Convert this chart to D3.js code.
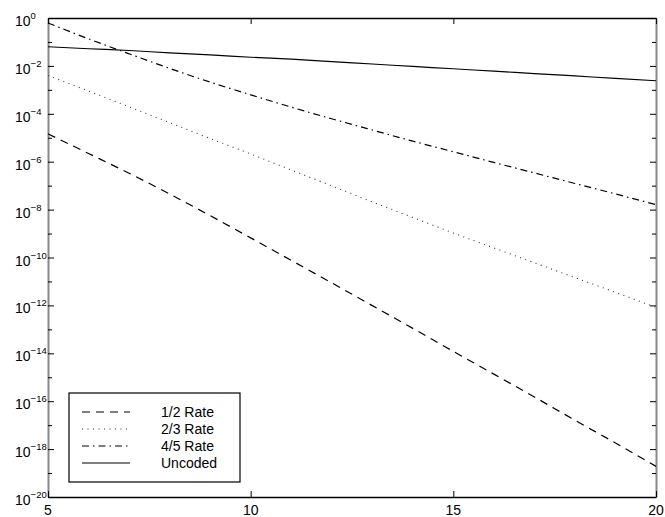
<!DOCTYPE html>
<html>
<head>
<meta charset="utf-8">
<script src="https://cdn.jsdelivr.net/npm/d3@7"></script>
<style>
    body { margin: 0; background: white; }
    svg text { font-family: Helvetica, Arial, "Liberation Sans", sans-serif; fill: black; }
</style>
</head>
<body>
<div id="chart"></div>
<script>
// x values (dB)
let snr = [5, 6, 7, 8, 9, 10, 11, 12, 13, 14, 15, 16, 17, 18, 19, 20];

// error rates
let rateHalf = [1.45e-5, 2.2e-6, 3.3e-7, 4.5e-8, 5.6e-9, 6.6e-10, 7.6e-11, 8.7e-12,
    9.8e-13, 1.1e-13, 1.2e-14, 1.35e-15, 1.5e-16, 1.6e-17, 1.8e-18, 1.9e-19];
let rateTwoThirds = [4.0e-3, 8.9e-4, 1.95e-4, 4.3e-5, 9.3e-6, 2.1e-6, 4.5e-7, 9.8e-8,
    2.1e-8, 4.7e-9, 1.05e-9, 2.5e-10, 6.0e-11, 1.45e-11, 3.5e-12, 8.3e-13];
let rateFourFifths = [6.2e-1, 1.35e-1, 3.2e-2, 7.9e-3, 2.1e-3, 6.2e-4, 1.9e-4, 6.2e-5,
    2.1e-5, 7.2e-6, 2.6e-6, 9.3e-7, 3.4e-7, 1.23e-7, 4.5e-8, 1.6e-8];
let uncoded = [6.3e-2, 5.2e-2, 4.4e-2, 3.5e-2, 2.9e-2, 2.3e-2, 1.9e-2, 1.5e-2,
    1.2e-2, 9.5e-3, 7.6e-3, 6.0e-3, 4.8e-3, 3.8e-3, 3.0e-3, 2.4e-3];

let seriesNames = ["1/2 Rate", "2/3 Rate", "4/5 Rate", "Uncoded"];
let xTicks = [5, 10, 15, 20];
let yMajorExp = [0, -2, -4, -6, -8, -10, -12, -14, -16, -18, -20];
let yMinorExp = [-1, -3, -5, -7, -9, -11, -13, -15, -17, -19];

class berChart {
    constructor(parentElement) {
        this.parentElement = parentElement;
        this.series = [rateHalf, rateTwoThirds, rateFourFifths, uncoded];
        // dash patterns for each curve
        this.dashes = ["8,6", "1,4.5", "7,4,1.5,4", null];
        this.initVis();
    }

    initVis() {
        let vis = this;
        vis.margin = {top: 18, right: 9, bottom: 20, left: 48};
        vis.width = 665 - vis.margin.left - vis.margin.right;
        vis.height = 517 - vis.margin.top - vis.margin.bottom;

        vis.svg = d3.select("#" + vis.parentElement).append("svg")
            .attr("width", 665)
            .attr("height", 517)
            .append("g")
            .attr("transform", "translate(" + vis.margin.left + "," + vis.margin.top + ")");

        vis.x = d3.scaleLinear()
            .domain([5, 20])
            .range([0, vis.width]);

        vis.y = d3.scaleLog()
            .domain([1e-20, 1])
            .range([vis.height, 0]);

        vis.drawAxes();
        vis.drawLines();
        vis.drawLegend();
    }

    drawAxes() {
        let vis = this;

        // ticks pointing inward on all four sides
        let yTickVals = yMajorExp.map(e => Math.pow(10, e));
        let yMinorVals = yMinorExp.map(e => Math.pow(10, e));

        let left = vis.svg.append("g").attr("class", "y-axis");
        left.call(d3.axisLeft(vis.y).tickValues(yTickVals).tickSizeInner(-6).tickSizeOuter(0).tickFormat(""));
        left.select(".domain").attr("stroke", "#888").attr("stroke-width", 2);
        left.append("g").call(d3.axisLeft(vis.y).tickValues(yMinorVals).tickSizeInner(-4).tickSizeOuter(0).tickFormat(""))
            .select(".domain").remove();

        let right = vis.svg.append("g").attr("transform", "translate(" + vis.width + ",0)");
        right.call(d3.axisRight(vis.y).tickValues(yTickVals).tickSizeInner(-6).tickSizeOuter(0).tickFormat(""));
        right.select(".domain").attr("stroke", "#888").attr("stroke-width", 2);
        right.append("g").call(d3.axisRight(vis.y).tickValues(yMinorVals).tickSizeInner(-4).tickSizeOuter(0).tickFormat(""))
            .select(".domain").remove();

        let bottom = vis.svg.append("g").attr("class", "x-axis")
            .attr("transform", "translate(0," + vis.height + ")");
        bottom.call(d3.axisBottom(vis.x).tickValues(xTicks).tickSizeInner(-6).tickSizeOuter(0).tickFormat(""));
        bottom.select(".domain").attr("stroke-width", 1.5);

        let top = vis.svg.append("g");
        top.call(d3.axisTop(vis.x).tickValues(xTicks).tickSizeInner(-6).tickSizeOuter(0).tickFormat(""));
        top.select(".domain").attr("stroke-width", 1.5);

        // x labels
        vis.svg.append("g").selectAll("text")
            .data(xTicks)
            .enter().append("text")
            .attr("x", d => vis.x(d))
            .attr("y", vis.height + 18)
            .attr("text-anchor", "middle")
            .style("font-size", "14px")
            .text(d => d);

        // y labels: 10 with superscript exponent
        let ylab = vis.svg.append("g").selectAll("text")
            .data(yMajorExp)
            .enter().append("text")
            .attr("x", 15 - vis.margin.left)
            .attr("y", d => vis.y(Math.pow(10, d)) + 8)
            .style("font-size", "14px");
        ylab.append("tspan").text("10");
        ylab.append("tspan")
            .attr("dy", -7)
            .style("font-size", "9.5px")
            .text(d => d === 0 ? "0" : "\u2212" + (-d));
    }

    drawLines() {
        let vis = this;
        let line = d3.line()
            .curve(d3.curveMonotoneX)
            .x((d, i) => vis.x(snr[i]))
            .y(d => vis.y(d));

        vis.svg.append("g").selectAll("path")
            .data(vis.series)
            .enter().append("path")
            .attr("d", line)
            .attr("fill", "none")
            .attr("stroke", (d, i) => i === 1 ? "#333" : "black")
            .attr("stroke-width", (d, i) => i === 1 ? 1.1 : 1.2)
            .attr("stroke-dasharray", (d, i) => vis.dashes[i]);
    }

    drawLegend() {
        let vis = this;
        let lg = vis.svg.append("g")
            .attr("transform", "translate(" + (69 - vis.margin.left) + "," + (393 - vis.margin.top) + ")");

        lg.append("rect")
            .attr("width", 171)
            .attr("height", 89)
            .attr("fill", "white")
            .attr("stroke", "black")
            .attr("stroke-width", 1.2);

        let rows = lg.selectAll(".row")
            .data(seriesNames)
            .enter().append("g")
            .attr("class", "row")
            .attr("transform", (d, i) => "translate(0," + (19 + i * 17) + ")");

        rows.append("line")
            .attr("x1", 13)
            .attr("x2", 61)
            .attr("stroke", (d, i) => i === 1 ? "#333" : "black")
            .attr("stroke-width", 1.2)
            .attr("stroke-dasharray", (d, i) => vis.dashes[i]);

        rows.append("text")
            .attr("x", 92)
            .attr("y", 5)
            .style("font-size", "14px")
            .text(d => d);
    }
}

new berChart("chart");
</script>
</body>
</html>
